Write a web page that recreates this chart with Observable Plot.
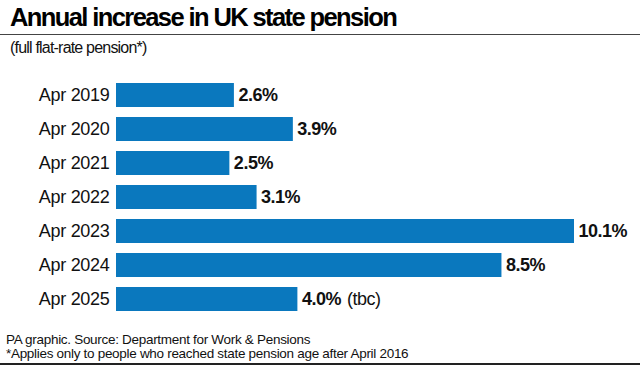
<!DOCTYPE html>
<html>
<head>
<meta charset="utf-8">
<script src="https://cdn.jsdelivr.net/npm/d3@7"></script>
<script src="https://cdn.jsdelivr.net/npm/@observablehq/plot@0.6"></script>
<style>
  html, body { margin: 0; padding: 0; background: #fff; }
  body { width: 640px; height: 366px; position: relative; overflow: hidden; font-family: "Liberation Sans", Arial, sans-serif; color: #111; }
  #title { position: absolute; left: 10px; top: 4px; font-size: 25.5px; line-height: 26px; font-weight: bold; letter-spacing: -1.6px; white-space: nowrap; color: #000; }
  #rule-top { position: absolute; left: 0; top: 34px; width: 640px; height: 1px; background: #444; }
  #subtitle { position: absolute; left: 10px; top: 40px; font-size: 16px; line-height: 16px; letter-spacing: -0.8px; white-space: nowrap; }
  #chart { position: absolute; left: 0; top: 76px; }
  #footer { position: absolute; left: 6px; top: 333px; font-size: 13.5px; line-height: 14px; letter-spacing: -0.3px; white-space: nowrap; }
  #rule-bottom { position: absolute; left: 0; top: 363px; width: 640px; height: 2px; background: #222; }
</style>
</head>
<body>
<div id="title">Annual increase in UK state pension</div>
<div id="rule-top"></div>
<div id="subtitle">(full flat-rate pension*)</div>
<div id="chart"></div>
<div id="footer">PA graphic. Source: Department for Work &amp; Pensions<br>*Applies only to people who reached state pension age after April 2016</div>
<div id="rule-bottom"></div>
<script>
const periods = ["Apr 2019", "Apr 2020", "Apr 2021", "Apr 2022", "Apr 2023", "Apr 2024", "Apr 2025"];
const increases = [2.6, 3.9, 2.5, 3.1, 10.1, 8.5, 4.0];
const notes = ["", "", "", "", "", "", "(tbc)"];

const rows = periods.map((p, i) => ({period: p, value: increases[i], label: increases[i].toFixed(1) + "%", note: notes[i]}));

const chart = Plot.plot({
  width: 640,
  height: 242,
  marginTop: 0,
  marginBottom: 0,
  marginLeft: 116,
  marginRight: 66,
  style: {fontFamily: "'Liberation Sans', Arial, sans-serif", fontSize: "18px", color: "#111", background: "transparent"},
  x: {domain: [0, 10.1], axis: null},
  y: {domain: periods, paddingInner: 0.3, paddingOuter: 0.15, label: null, tickSize: 0, tickPadding: 7},
  marks: [
    Plot.barX(rows, {x: "value", y: "period", fill: "#0a78be"}),
    Plot.text(rows, {x: "value", y: "period", text: "label", textAnchor: "start", dx: 4, fontWeight: "bold", fill: "#111", fontSize: 18}),
    Plot.text(rows.filter(d => d.note), {x: "value", y: "period", text: "note", textAnchor: "start", dx: 49, fill: "#111", fontSize: 18})
  ]
});
chart.querySelectorAll("g[aria-label='y-axis tick label'] text").forEach(t => t.setAttribute("letter-spacing", "-0.3"));
chart.querySelectorAll("g[aria-label='text'] text").forEach(t => t.setAttribute("letter-spacing", "-0.5"));
document.getElementById("chart").appendChild(chart);
</script>
</body>
</html>
